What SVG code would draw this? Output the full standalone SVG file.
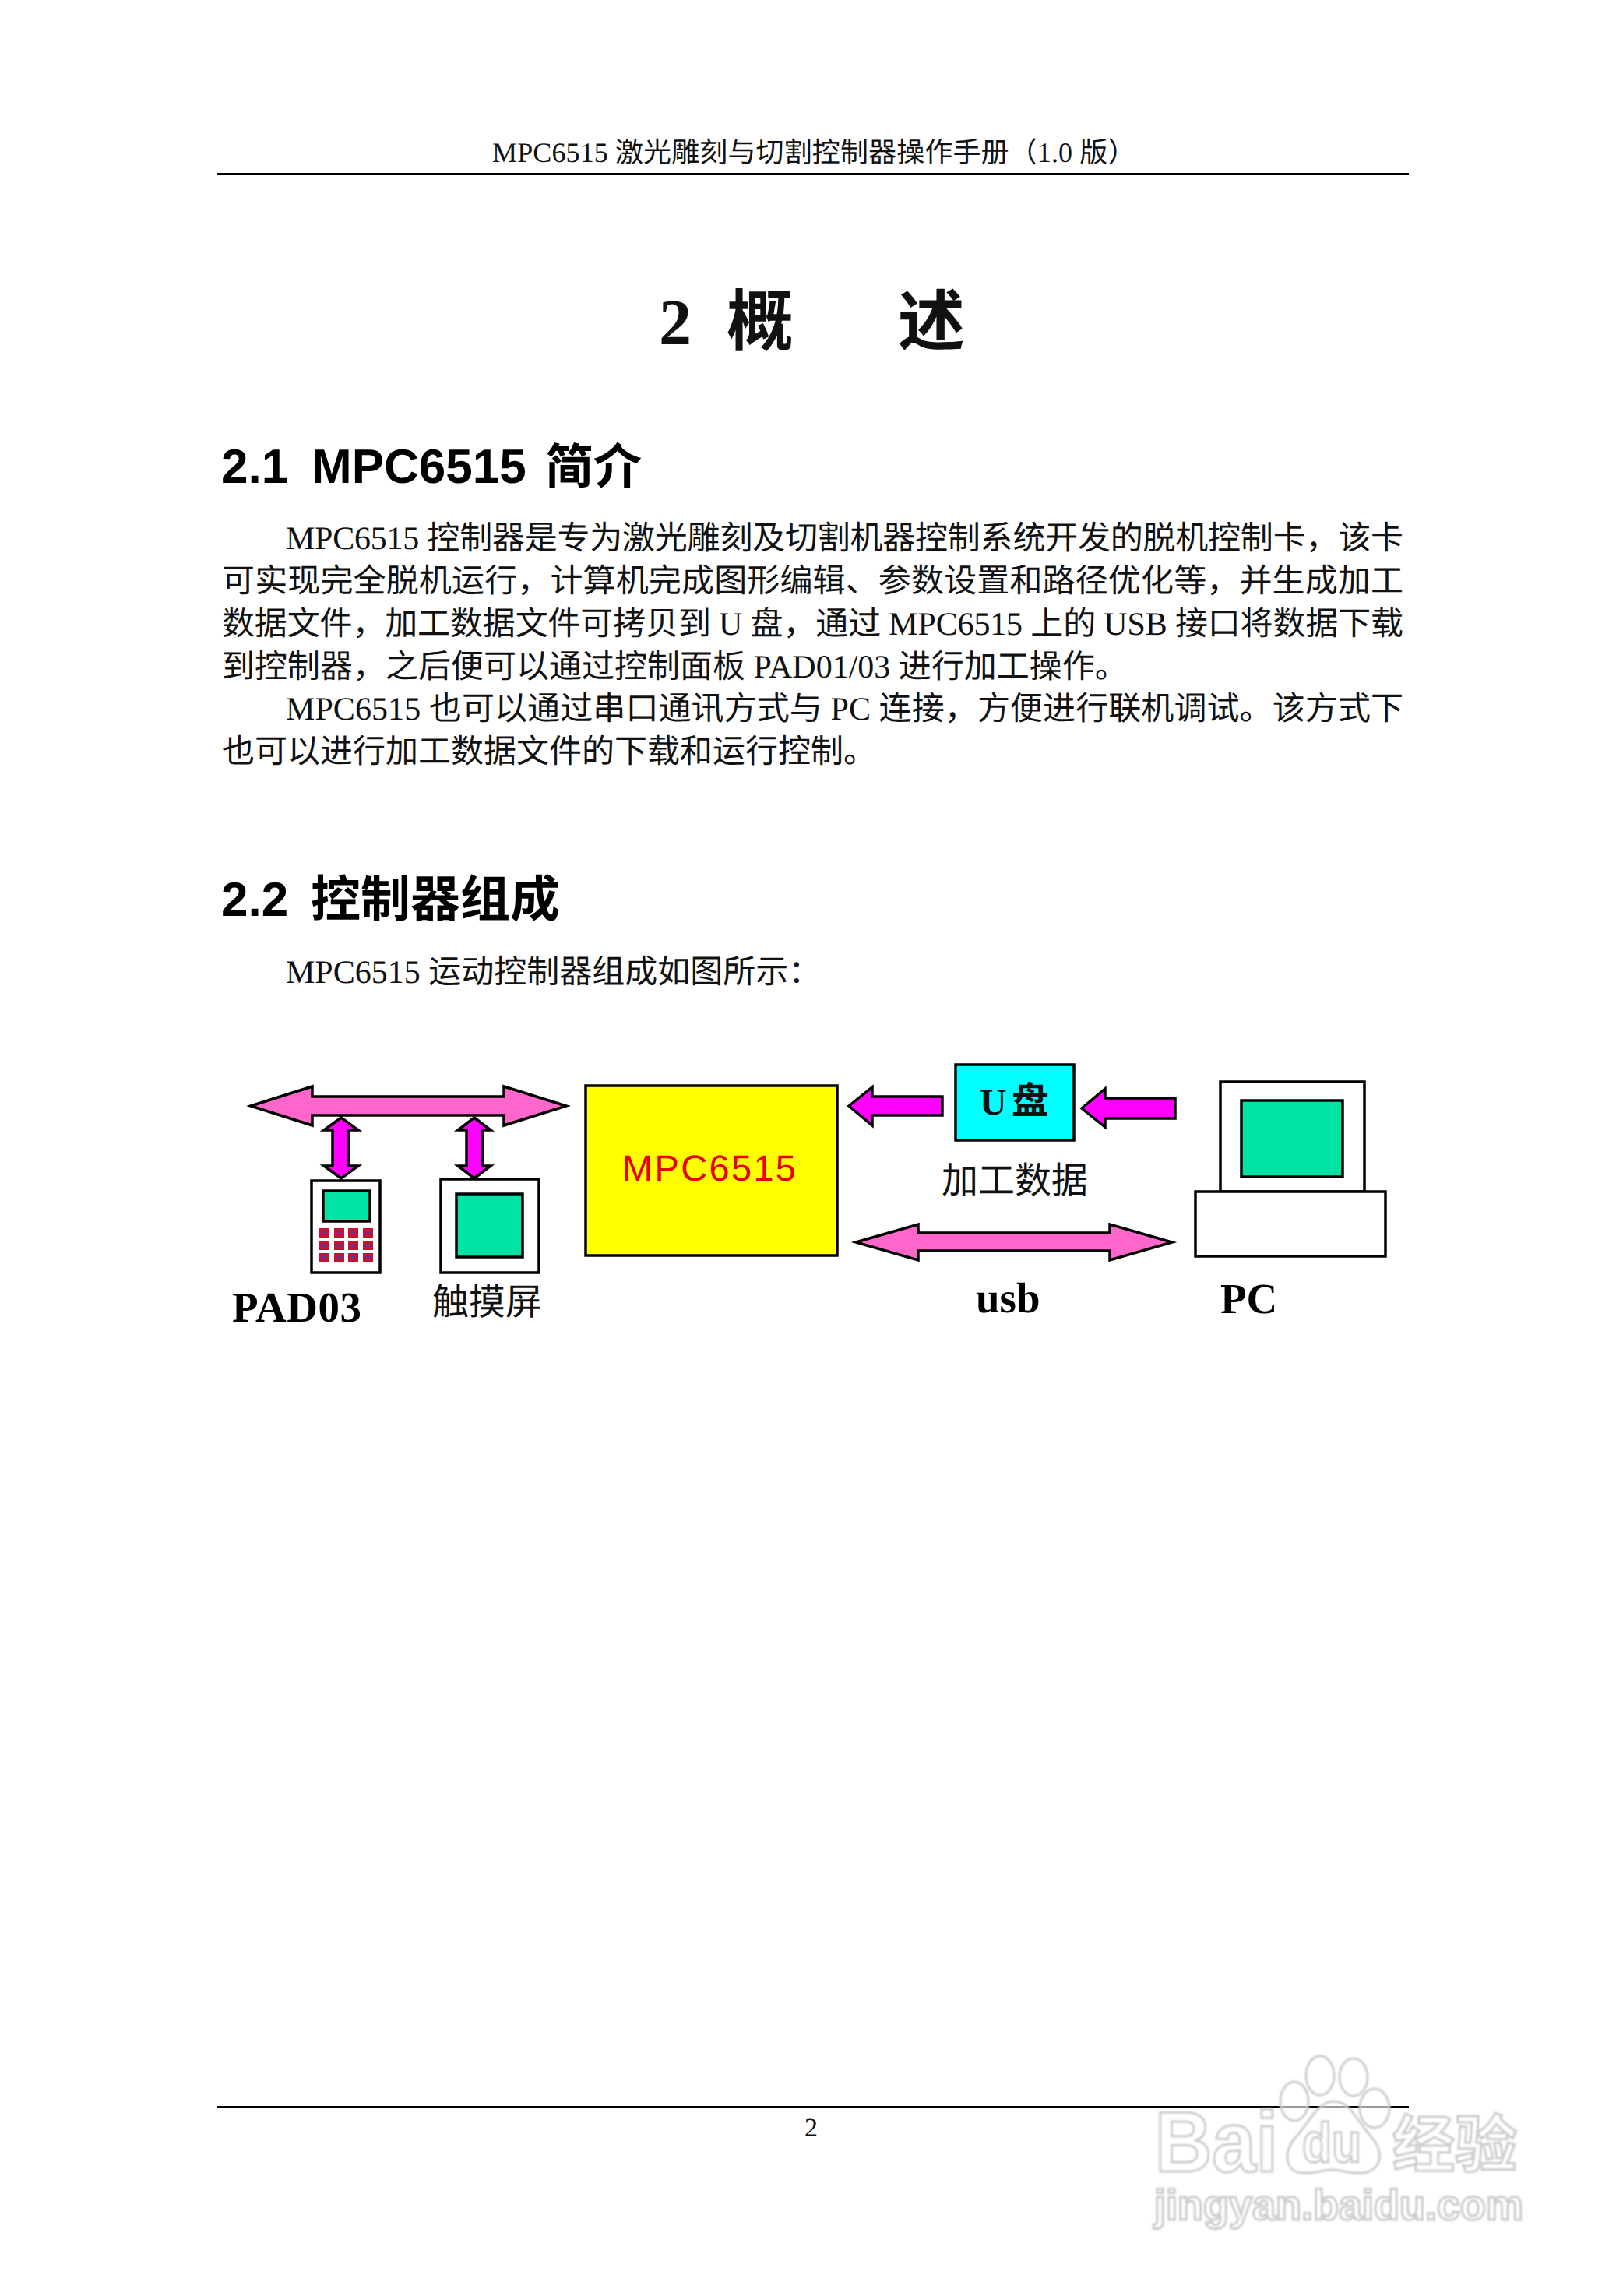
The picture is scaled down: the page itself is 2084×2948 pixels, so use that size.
<svg xmlns="http://www.w3.org/2000/svg" width="2084" height="2948" viewBox="0 0 2084 2948">
<style>
text{text-rendering:geometricPrecision;white-space:pre}
.serif{font-family:"Liberation Serif","Noto Sans CJK SC",serif;fill:#111}
.sans{font-family:"Liberation Sans","Noto Sans CJK SC",sans-serif;fill:#000;font-weight:700}
.body{font-size:42px}
.head{font-size:36px;letter-spacing:.12px}
.h2{font-size:62px}
.lab{font-size:47px}
.blab{font-size:55px;font-weight:700;fill:#000}
.box{stroke:#000;stroke-width:3.5}
.wh{fill:#fff}
.scr{fill:#00e3a5}
.pink{fill:#ff66cc;stroke:#000;stroke-width:3.5;stroke-linejoin:miter}
.mag{fill:#ff00ff;stroke:#000;stroke-width:3.5;stroke-linejoin:miter}
.key{fill:#c4122f}
.dot{fill:#5a35a5}
.rule{fill:#000}
.wm{fill:#fff;fill-opacity:.6;stroke:#cccccc;stroke-width:3}
.wmt{font-family:"Liberation Sans","Noto Sans CJK SC",sans-serif;font-weight:700;fill:#fff;fill-opacity:.6;stroke:#cccccc;stroke-width:3}
</style>
<defs>
<filter id="soft" x="-5%" y="-5%" width="110%" height="110%"><feGaussianBlur stdDeviation="1"/></filter>
<rect id="k" class="key" width="13" height="12"/>
</defs>
<rect width="2084" height="2948" fill="#fff"/>

<g id="page-header">
<text class="serif head" x="632" y="208">MPC6515 激光雕刻与切割控制器操作手册（1.0 版）</text>
<rect class="rule" x="278" y="222" width="1531" height="3"/>
</g>

<g id="page-text">
<text class="serif" x="846" y="442" font-size="84" font-weight="700">2</text>
<text class="serif" x="933" y="443" font-size="86" font-weight="700">概</text>
<text class="serif" x="1153" y="443" font-size="86" font-weight="700">述</text>

<text class="sans h2" x="284" y="620">2.1</text>
<text class="sans h2" x="400" y="620">MPC6515</text>
<text class="sans" x="700" y="621" font-size="62">简介</text>

<text class="serif body" x="367" y="705" textLength="1435">MPC6515 控制器是专为激光雕刻及切割机器控制系统开发的脱机控制卡，该卡</text>
<text class="serif body" x="285" y="760" textLength="1517">可实现完全脱机运行，计算机完成图形编辑、参数设置和路径优化等，并生成加工</text>
<text class="serif body" x="285" y="815" textLength="1517">数据文件，加工数据文件可拷贝到 U 盘，通过 MPC6515 上的 USB 接口将数据下载</text>
<text class="serif body" x="285" y="870">到控制器，之后便可以通过控制面板 PAD01/03 进行加工操作。</text>
<text class="serif body" x="367" y="924" textLength="1435">MPC6515 也可以通过串口通讯方式与 PC 连接，方便进行联机调试。该方式下</text>
<text class="serif body" x="285" y="979">也可以进行加工数据文件的下载和运行控制。</text>

<text class="sans h2" x="284" y="1176">2.2</text>
<text class="sans" x="399" y="1177" font-size="64">控制器组成</text>
<text class="serif body" x="367" y="1262">MPC6515 运动控制器组成如图所示：</text>
</g>

<g id="connectors">
<polygon id="bus-top" class="pink" points="322,1420 401,1395 401,1408 647,1408 647,1395 727,1420 647,1445 647,1432 401,1432 401,1445"/>
<polygon id="link-pad" class="mag" points="438,1435 460,1451 448,1451 448,1497 460,1497 438,1513 416,1497 427,1497 427,1451 416,1451"/>
<polygon id="link-touch" class="mag" points="609,1435 630,1451 620,1451 620,1497 630,1497 609,1513 588,1497 599,1497 599,1451 588,1451"/>
<polygon id="u-to-mpc" class="mag" points="1090,1420 1120,1396 1120,1408 1210,1408 1210,1432 1120,1432 1120,1445"/>
<polygon id="pc-to-u" class="mag" points="1389,1423 1419,1398 1419,1410 1509,1410 1509,1436 1419,1436 1419,1447"/>
<polygon id="usb-link" class="pink" points="1099,1595 1179,1572 1179,1583 1425,1583 1425,1572 1505,1595 1425,1618 1425,1606 1179,1606 1179,1618"/>
</g>

<g id="node-mpc">
<rect class="box" x="752" y="1394" width="323" height="218" fill="#ffff00"/>
<text x="799" y="1516" font-family="Liberation Sans, sans-serif" font-size="47" fill="#e60000" textLength="223">MPC6515</text>
</g>

<g id="node-pad">
<rect class="box wh" x="400" y="1516" width="88" height="118"/>
<rect class="box scr" x="415" y="1529" width="60" height="39"/>
<use href="#k" x="410" y="1577"/><use href="#k" x="429" y="1577"/><use href="#k" x="447" y="1577"/><use href="#k" x="466" y="1577"/>
<use href="#k" x="410" y="1593"/><use href="#k" x="429" y="1593"/><use href="#k" x="447" y="1593"/><use href="#k" x="466" y="1593"/>
<use href="#k" x="410" y="1609"/><use href="#k" x="429" y="1609"/><use href="#k" x="447" y="1609"/><use href="#k" x="466" y="1609"/>
<g class="dot">
<rect x="414" y="1581" width="5" height="4"/><rect x="433" y="1581" width="5" height="4"/><rect x="451" y="1581" width="5" height="4"/><rect x="470" y="1581" width="5" height="4"/>
<rect x="414" y="1597" width="5" height="4"/><rect x="433" y="1597" width="5" height="4"/><rect x="451" y="1597" width="5" height="4"/><rect x="470" y="1597" width="5" height="4"/>
<rect x="414" y="1613" width="5" height="4"/><rect x="433" y="1613" width="5" height="4"/><rect x="451" y="1613" width="5" height="4"/><rect x="470" y="1613" width="5" height="4"/>
</g>
<text class="serif blab" x="298" y="1697" textLength="166">PAD03</text>
</g>

<g id="node-touch">
<rect class="box wh" x="566" y="1514" width="126" height="120"/>
<rect class="box scr" x="586" y="1533" width="85" height="81"/>
<text class="serif lab" x="555" y="1688">触摸屏</text>
</g>

<g id="node-udisk">
<rect class="box" x="1227" y="1367" width="152" height="97" fill="#00ffff"/>
<text class="serif" x="1258" y="1431" font-size="48" font-weight="700">U</text>
<text class="serif" x="1299" y="1430" font-size="48" font-weight="700">盘</text>
<text class="serif lab" x="1209" y="1532">加工数据</text>
</g>

<g id="node-usb">
<text class="serif blab" x="1253" y="1685">usb</text>
</g>

<g id="node-pc">
<rect class="box wh" x="1567" y="1389" width="185" height="141"/>
<rect class="box scr" x="1594" y="1413" width="130" height="98"/>
<rect class="box wh" x="1535" y="1530" width="244" height="83"/>
<text class="serif blab" x="1567" y="1686">PC</text>
</g>

<g id="page-footer">
<rect class="rule" x="278" y="2704" width="1531" height="2"/>
<text class="serif" x="1033" y="2743" font-size="34">2</text>
</g>

<g id="watermark" filter="url(#soft)">
<ellipse class="wm" cx="1662" cy="2698" rx="18" ry="25"/>
<ellipse class="wm" cx="1695" cy="2665" rx="18" ry="25"/>
<ellipse class="wm" cx="1738" cy="2667" rx="18" ry="24"/>
<ellipse class="wm" cx="1765" cy="2707" rx="19" ry="25"/>
<path class="wm" d="M1713 2698C1733 2698 1742 2722 1760 2743C1778 2762 1776 2790 1745 2790C1730 2790 1722 2786 1711 2786C1700 2786 1690 2790 1675 2790C1648 2790 1648 2762 1663 2745C1682 2724 1692 2698 1713 2698Z"/>
<text class="wmt" x="1483" y="2788" font-size="110" textLength="158" lengthAdjust="spacingAndGlyphs">Bai</text>
<text class="wmt" x="1672" y="2776" font-size="72" textLength="76" lengthAdjust="spacingAndGlyphs">du</text>
<text class="wmt" x="1788" y="2782" font-size="80" textLength="160" lengthAdjust="spacingAndGlyphs">经验</text>
<text class="wmt" x="1482" y="2850" font-size="55" textLength="474" lengthAdjust="spacingAndGlyphs">jingyan.baidu.com</text>
</g>
</svg>
